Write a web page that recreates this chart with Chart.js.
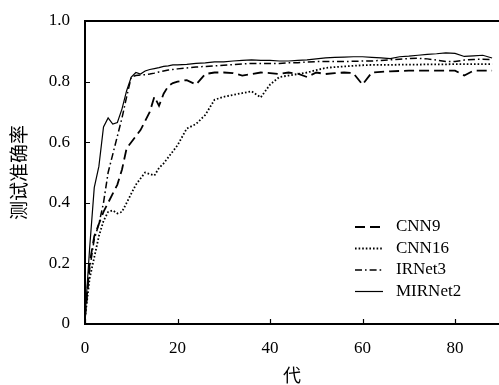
<!DOCTYPE html>
<html>
<head>
<meta charset="utf-8">
<script src="https://cdn.jsdelivr.net/npm/chart.js@4.4.0/dist/chart.umd.min.js"></script>
<style>
  html, body { margin: 0; padding: 0; background: #fff; }
  #wrap { width: 499px; height: 385px; position: relative; }
</style>
</head>
<body>
<div id="wrap"><canvas id="accChart"></canvas></div>
<script>
// --- DATOS ---
const epochs = [0, 1, 2, 3, 4, 5, 6, 7, 8, 9, 10, 11, 12, 13, 14, 15, 16, 17, 18, 19, 20,
    22, 24, 26, 28, 30, 32, 34, 36, 38, 40, 42, 44, 46, 48, 50, 52, 54, 56, 58, 60,
    62, 64, 66, 68, 70, 72, 74, 76, 78, 80, 82, 84, 86, 88];

const cnn9 = [0.02, 0.20, 0.29, 0.33, 0.37, 0.40, 0.43, 0.46, 0.51, 0.58, 0.60, 0.62, 0.64, 0.67, 0.70, 0.75, 0.72, 0.76, 0.785, 0.795, 0.80,
    0.805, 0.79, 0.825, 0.83, 0.83, 0.828, 0.82, 0.825, 0.83, 0.828, 0.825, 0.83, 0.826, 0.815, 0.83, 0.825, 0.828, 0.83, 0.828, 0.79,
    0.83, 0.832, 0.834, 0.835, 0.836, 0.836, 0.836, 0.836, 0.836, 0.836, 0.82, 0.836, 0.836, 0.836];

const cnn16 = [0.02, 0.15, 0.22, 0.29, 0.34, 0.37, 0.375, 0.365, 0.37, 0.40, 0.43, 0.46, 0.48, 0.50, 0.495, 0.49, 0.515, 0.53, 0.55, 0.57, 0.59,
    0.645, 0.66, 0.69, 0.74, 0.75, 0.756, 0.762, 0.768, 0.748, 0.79, 0.815, 0.82, 0.825, 0.83, 0.838, 0.845, 0.848, 0.85, 0.852, 0.854,
    0.855, 0.855, 0.855, 0.856, 0.856, 0.856, 0.857, 0.857, 0.857, 0.858, 0.858, 0.858, 0.858, 0.858];

const irnet3 = [0.02, 0.18, 0.28, 0.33, 0.40, 0.50, 0.56, 0.62, 0.68, 0.75, 0.815, 0.82, 0.822, 0.823, 0.825, 0.828, 0.832, 0.835, 0.838, 0.84, 0.842,
    0.845, 0.848, 0.85, 0.852, 0.854, 0.856, 0.858, 0.86, 0.86, 0.86, 0.86, 0.862, 0.862, 0.865, 0.866, 0.866, 0.866, 0.866, 0.867, 0.868,
    0.868, 0.87, 0.872, 0.874, 0.876, 0.877, 0.875, 0.871, 0.866, 0.866, 0.871, 0.873, 0.874, 0.872];

const mirnet2 = [0.02, 0.25, 0.45, 0.52, 0.65, 0.68, 0.66, 0.665, 0.71, 0.77, 0.815, 0.83, 0.825, 0.835, 0.84, 0.843, 0.846, 0.85, 0.852, 0.855, 0.855,
    0.857, 0.86, 0.862, 0.865, 0.865, 0.868, 0.87, 0.872, 0.87, 0.87, 0.868, 0.868, 0.87, 0.872, 0.875, 0.878, 0.88, 0.881, 0.882, 0.882,
    0.88, 0.878, 0.876, 0.882, 0.884, 0.887, 0.89, 0.892, 0.895, 0.893, 0.883, 0.885, 0.887, 0.878];

const seriesNames = ['CNN9', 'CNN16', 'IRNet3', 'MIRNet2'];
const xTicks = [0, 20, 40, 60, 80];
const yTicks = [0, 0.2, 0.4, 0.6, 0.8, 1.0];

const serif = '"Liberation Serif", "Times New Roman", serif';
const cjk = '"Noto Sans CJK SC", sans-serif';

const toPoints = vals => epochs.map((e, i) => ({ x: e, y: vals[i] }));

const styles = [
    { borderDash: [10, 5], borderWidth: 1.8 },
    { borderDash: [1.6, 2], borderWidth: 1.8 },
    { borderDash: [7, 3, 1.6, 3], borderWidth: 1.5 },
    { borderDash: [], borderWidth: 1.2 }
];

const datasets = [cnn9, cnn16, irnet3, mirnet2].map((vals, i) => ({
    label: seriesNames[i],
    data: toPoints(vals),
    borderColor: '#000',
    backgroundColor: '#000',
    borderDash: styles[i].borderDash,
    borderWidth: styles[i].borderWidth,
    pointRadius: 0,
    tension: 0,
    fill: false
}));

// marcas de eje hacia dentro
const innerTicks = {
    id: 'innerTicks',
    afterDraw(chart) {
        const { ctx, chartArea: a, scales: { x, y } } = chart;
        ctx.save();
        ctx.strokeStyle = '#000';
        ctx.lineWidth = 1.2;
        ctx.beginPath();
        xTicks.forEach(v => {
            const px = Math.round(x.getPixelForValue(v)) + 0.5;
            ctx.moveTo(px, a.bottom); ctx.lineTo(px, a.bottom - 5);
        });
        yTicks.forEach(v => {
            const py = Math.round(y.getPixelForValue(v)) + 0.5;
            ctx.moveTo(a.left, py); ctx.lineTo(a.left + 5, py);
        });
        ctx.stroke();
        ctx.restore();
    }
};

// leyenda dentro del área
const innerLegend = {
    id: 'innerLegend',
    afterDraw(chart) {
        const { ctx, chartArea: a } = chart;
        ctx.save();
        ctx.font = '17px ' + serif;
        ctx.fillStyle = '#000';
        ctx.textBaseline = 'middle';
        chart.data.datasets.forEach((ds, i) => {
            const yy = a.bottom - 97 + i * 21.5;
            ctx.strokeStyle = '#000';
            ctx.lineWidth = ds.borderWidth;
            ctx.setLineDash(ds.borderDash);
            ctx.beginPath();
            ctx.moveTo(a.right - 144, yy); ctx.lineTo(a.right - 116, yy);
            ctx.stroke();
            ctx.setLineDash([]);
            ctx.fillText(ds.label, a.right - 103, yy);
        });
        ctx.restore();
    }
};

new Chart(document.getElementById('accChart'), {
    type: 'line',
    data: { datasets },
    plugins: [innerTicks, innerLegend],
    options: {
        responsive: true,
        maintainAspectRatio: false,
        animation: false,
        layout: { padding: 0 },
        plugins: { legend: { display: false }, tooltip: { enabled: false } },
        scales: {
            x: {
                type: 'linear',
                position: 'bottom',
                min: 0,
                max: 89.5,
                afterBuildTicks: s => { s.ticks = xTicks.map(v => ({ value: v })); },
                afterFit: s => { s.height = 61; s.paddingLeft = 0; s.paddingRight = 0; },
                ticks: { font: { family: serif, size: 17 }, color: '#000', padding: 14, maxRotation: 0 },
                grid: { display: false, drawTicks: false },
                border: { display: true, color: '#000', width: 2 },
                title: { display: true, text: '代', font: { family: cjk, size: 18, lineHeight: 1 }, color: '#000', padding: { top: 0, bottom: 1 } }
            },
            xTop: {
                type: 'linear',
                position: 'top',
                min: 0,
                max: 89.5,
                afterFit: s => { s.height = 21; s.paddingLeft = 0; s.paddingRight = 0; },
                ticks: { display: false },
                grid: { display: false, drawTicks: false },
                border: { display: true, color: '#000', width: 2 }
            },
            y: {
                min: 0,
                max: 1,
                afterBuildTicks: s => { s.ticks = yTicks.map(v => ({ value: v })); },
                afterFit: s => { s.width = 85; s.paddingTop = 0; s.paddingBottom = 0; },
                ticks: {
                    font: { family: serif, size: 17 }, color: '#000', padding: 15,
                    callback: v => v === 0 ? '0' : v.toFixed(1)
                },
                grid: { display: false, drawTicks: false },
                border: { display: true, color: '#000', width: 2 },
                title: { display: true, text: '测试准确率', font: { family: cjk, size: 19, lineHeight: 1 }, color: '#000', padding: { top: 9, bottom: 0 } }
            }
        }
    }
});
</script>
</body>
</html>
